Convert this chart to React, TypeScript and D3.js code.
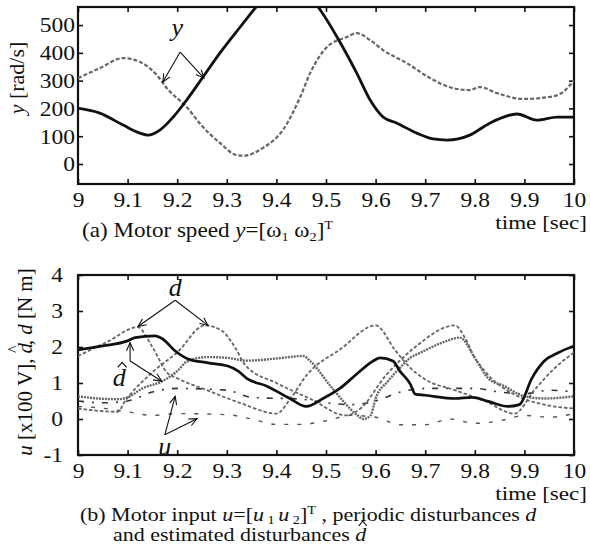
import { useEffect, useRef } from 'react'
import * as d3 from 'd3'

type Pt = [number, number]

// time axis (shared)
const timeTicks = [9, 9.1, 9.2, 9.3, 9.4, 9.5, 9.6, 9.7, 9.8, 9.9, 10]

// (a) motor speed [rad/s]
const speedTicks = [0, 100, 200, 300, 400, 500]
const omega1: Pt[] = [
    [9.0, 201], [9.044, 183], [9.091, 140], [9.125, 111], [9.141, 104], [9.165, 122], [9.192, 169],
    [9.219, 230], [9.252, 313], [9.286, 399], [9.327, 493], [9.359, 565], [9.40, 650], [9.44, 645],
    [9.484, 565], [9.528, 439], [9.562, 327], [9.589, 230], [9.615, 169], [9.643, 147], [9.683, 111],
    [9.716, 90], [9.744, 86], [9.79, 104], [9.83, 147], [9.885, 180], [9.925, 158], [9.966, 169], [10, 169],
]
const omega2: Pt[] = [
    [9.0, 309], [9.044, 345], [9.091, 381], [9.125, 367], [9.159, 320], [9.179, 273], [9.219, 205],
    [9.252, 133], [9.286, 76], [9.32, 32], [9.335, 30], [9.373, 58], [9.413, 122], [9.448, 241],
    [9.468, 327], [9.502, 421], [9.542, 457], [9.562, 471], [9.589, 446], [9.615, 410], [9.663, 363],
    [9.71, 309], [9.756, 273], [9.79, 266], [9.81, 277], [9.845, 255], [9.897, 234], [9.95, 241],
    [9.978, 259], [10, 302],
]

// (b) inputs and disturbances
const inputTicks = [-1, 0, 1, 2, 3, 4]
const dHat1: Pt[] = [
    [9.0, 1.92], [9.05, 2.03], [9.1, 2.17], [9.115, 2.26], [9.155, 2.31], [9.17, 2.23], [9.196, 1.89],
    [9.222, 1.67], [9.262, 1.56], [9.302, 1.47], [9.323, 1.33], [9.34, 1.13], [9.381, 0.91],
    [9.427, 0.57], [9.46, 0.35], [9.494, 0.57], [9.528, 0.85], [9.562, 1.25], [9.595, 1.61],
    [9.609, 1.7], [9.635, 1.61], [9.649, 1.33], [9.67, 0.97], [9.68, 0.69], [9.7, 0.66], [9.76, 0.57],
    [9.794, 0.6], [9.827, 0.49], [9.867, 0.35], [9.89, 0.4], [9.915, 1.13], [9.94, 1.61],
    [9.968, 1.84], [10, 2.03],
]
const dHat2: Pt[] = [
    [9.0, 0.63], [9.04, 0.57], [9.08, 0.55], [9.1, 0.6], [9.13, 0.85], [9.17, 1.05], [9.2, 1.33],
    [9.22, 1.6], [9.26, 1.72], [9.3, 1.7], [9.34, 1.62], [9.4, 1.68], [9.454, 1.75], [9.468, 1.61],
    [9.51, 0.9], [9.562, 0.12], [9.575, 0.0], [9.59, 0.1], [9.6, 0.57], [9.625, 1.05], [9.649, 1.42],
    [9.67, 1.7], [9.69, 1.84], [9.74, 2.15], [9.77, 2.26], [9.8, 1.7], [9.827, 1.13], [9.86, 0.91],
    [9.9, 0.63], [9.94, 0.57], [10, 0.63],
]
const d1: Pt[] = [
    [9.0, 1.75], [9.06, 2.15], [9.12, 2.55], [9.15, 2.0], [9.18, 1.28], [9.2, 1.13], [9.26, 0.8],
    [9.33, 0.43], [9.4, 0.15], [9.43, 0.6], [9.46, 1.2], [9.53, 1.95], [9.6, 2.6], [9.64, 1.9],
    [9.67, 1.42], [9.7, 1.1], [9.76, 0.8], [9.82, 0.5], [9.88, 0.15], [9.92, 0.8], [9.96, 1.4], [10, 1.85],
]
const d2: Pt[] = [
    [9.0, 0.29], [9.08, 0.2], [9.095, 0.5], [9.15, 1.3], [9.2, 1.85], [9.256, 2.6], [9.29, 2.45],
    [9.317, 1.98], [9.337, 1.5], [9.4, 1.0], [9.47, 0.55], [9.54, 0.1], [9.57, 0.3], [9.62, 1.2],
    [9.68, 2.0], [9.76, 2.6], [9.78, 2.26], [9.8, 1.7], [9.82, 1.33], [9.887, 0.63], [9.94, 0.4], [10, 0.29],
]
const u1: Pt[] = [
    [9.0, 0.5], [9.05, 0.45], [9.1, 0.5], [9.15, 0.75], [9.2, 0.85], [9.3, 0.8], [9.35, 0.6],
    [9.45, 0.55], [9.5, 0.45], [9.55, 0.4], [9.6, 0.5], [9.65, 0.75], [9.7, 0.85], [9.8, 0.85],
    [9.85, 0.75], [9.9, 0.7], [9.95, 0.8], [10, 0.75],
]
const u2: Pt[] = [
    [9.0, 0.35], [9.05, 0.3], [9.1, 0.2], [9.15, 0.1], [9.2, 0.15], [9.3, 0.12], [9.35, 0.0],
    [9.4, -0.15], [9.45, -0.15], [9.5, -0.05], [9.55, 0.1], [9.6, 0.05], [9.65, -0.16], [9.7, -0.16],
    [9.75, 0.0], [9.8, -0.12], [9.85, -0.05], [9.9, 0.1], [9.95, 0.05], [10, 0.15],
]

// annotation anchors in data units: label, arrow origin, arrow tips
const yNote = { label: [9.2, 489] as Pt, from: [9.206, 403] as Pt, to: [[9.171, 295], [9.254, 309]] as Pt[] }
const dNote = { label: [9.196, 3.63] as Pt, from: [9.196, 3.3] as Pt, to: [[9.121, 2.57], [9.262, 2.6]] as Pt[] }
const dHatNote = { label: [9.083, 1.13] as Pt, from: [9.105, 1.61] as Pt, to: [[9.105, 2.12], [9.169, 1.05]] as Pt[] }
const uNote = { label: [9.175, -0.78] as Pt, from: [9.175, -0.44] as Pt, to: [[9.196, 0.63], [9.24, 0.01]] as Pt[] }

const FONT = "'Liberation Serif', 'Times New Roman', serif"
const SX = 1.12 // the scanned type is a little wide

export default function App() {
    const svgRef = useRef<SVGSVGElement>(null)

    useEffect(() => {
        if (!svgRef.current) return
        const svg = d3.select(svgRef.current)
        svg.selectAll('*').remove()
        svg.attr('font-family', FONT).attr('fill', '#111')

        const defs = svg.append('defs')
        defs.append('marker')
            .attr('id', 'ah').attr('viewBox', '0 0 10 10')
            .attr('refX', 9).attr('refY', 5)
            .attr('markerWidth', 9).attr('markerHeight', 9)
            .attr('markerUnits', 'userSpaceOnUse')
            .attr('orient', 'auto')
            .append('path').attr('d', 'M0,1 L9,5 L0,9')
            .attr('fill', 'none').attr('stroke', '#111').attr('stroke-width', 1.2)

        const hat = (cx: number, cy: number, w = 8) =>
            svg.append('path').attr('d', `M${cx - w / 2},${cy + 3} L${cx},${cy - 2} L${cx + w / 2},${cy + 3}`)
                .attr('fill', 'none').attr('stroke', '#111').attr('stroke-width', 1.2)

        const left = 78, right = 574
        const x = d3.scaleLinear().domain([9, 10]).range([left, right])
        const fmt = (d: d3.NumberValue) => String(+(+d).toFixed(1))

        const panel = (id: string, top: number, bottom: number, yDomain: [number, number], yTicks: number[], labelGap: number) => {
            const y = d3.scaleLinear().domain(yDomain).range([bottom, top])
            defs.append('clipPath').attr('id', id)
                .append('rect').attr('x', left).attr('y', top).attr('width', right - left).attr('height', bottom - top)

            const ax = (g: d3.Selection<SVGGElement, unknown, null, undefined>) => {
                g.select('.domain').remove()
                g.attr('font-family', FONT)
                g.selectAll('line').attr('stroke', '#111').attr('stroke-width', 1.6)
            }
            svg.append('g').attr('transform', `translate(0,${bottom})`)
                .call(d3.axisBottom(x).tickValues(timeTicks).tickFormat(fmt).tickSize(-5))
                .call(ax)
                .call(g => g.selectAll('text').attr('y', 16).attr('dy', '0.33em')
                    .attr('transform', `scale(${SX},1)`)
                    .attr('font-size', 21).attr('fill', '#111'))
            svg.append('g').attr('transform', `translate(0,${top})`)
                .call(d3.axisTop(x).tickValues(timeTicks).tickFormat(() => '').tickSize(-5))
                .call(ax)
            svg.append('g').attr('transform', `translate(${left},0)`)
                .call(d3.axisLeft(y).tickValues(yTicks).tickFormat(fmt).tickSize(-5))
                .call(ax)
                .call(g => g.selectAll('text').attr('x', -labelGap / SX).attr('dy', '0.33em')
                    .attr('transform', `scale(${SX},1)`)
                    .attr('font-size', 21).attr('fill', '#111'))
            svg.append('g').attr('transform', `translate(${right},0)`)
                .call(d3.axisRight(y).tickValues(yTicks).tickFormat(() => '').tickSize(-5))
                .call(ax)

            svg.append('rect')
                .attr('x', left).attr('y', top).attr('width', right - left).attr('height', bottom - top)
                .attr('fill', 'none').attr('stroke', '#111').attr('stroke-width', 2.2)

            svg.append('text').attr('transform', `translate(587,${bottom + 45}) scale(1.1,0.9)`)
                .attr('text-anchor', 'end').attr('font-size', 21).text('time [sec]')

            const plot = svg.append('g').attr('clip-path', `url(#${id})`)
            const line = d3.line<Pt>().x(d => x(d[0])).y(d => y(d[1])).curve(d3.curveMonotoneX)
            const draw = (data: Pt[], stroke: string, width: number, dash: string | null) =>
                plot.append('path').datum(data).attr('d', line)
                    .attr('fill', 'none').attr('stroke', stroke).attr('stroke-width', width)
                    .attr('stroke-dasharray', dash).attr('stroke-linejoin', 'round')
            return { y, draw }
        }

        const arrows = (note: { from: Pt; to: Pt[] }, y: d3.ScaleLinear<number, number>) => {
            note.to.forEach(t => {
                svg.append('line')
                    .attr('x1', x(note.from[0])).attr('y1', y(note.from[1]))
                    .attr('x2', x(t[0])).attr('y2', y(t[1]))
                    .attr('stroke', '#111').attr('stroke-width', 1.1)
                    .attr('marker-end', 'url(#ah)')
            })
        }
        const italic = (p: Pt, y: d3.ScaleLinear<number, number>, s: string, withHat = false) => {
            svg.append('text').attr('x', x(p[0])).attr('y', y(p[1]) + 8)
                .attr('text-anchor', 'middle').attr('font-size', 26).attr('font-style', 'italic').text(s)
            if (withHat) hat(x(p[0]) + 3, y(p[1]) - 14, 9)
        }

        // (a) Motor speed
        const a = panel('clipA', 7, 184, [-72, 565], speedTicks, 3)
        a.draw(omega2, '#666', 2.2, '4,2')
        a.draw(omega1, '#111', 2.8, null)
        italic(yNote.label, a.y, 'y')
        arrows(yNote, a.y)

        const capA = svg.append('text').attr('transform', `translate(82,237) scale(1.1,1)`).attr('font-size', 21)
        capA.append('tspan').text('(a)  Motor speed ')
        capA.append('tspan').attr('font-style', 'italic').text('y')
        capA.append('tspan').text('=[ω')
        capA.append('tspan').attr('font-size', 13).attr('dy', 4).text('1')
        capA.append('tspan').attr('dy', -4).text('  ω')
        capA.append('tspan').attr('font-size', 13).attr('dy', 4).text('2')
        capA.append('tspan').attr('dy', -4).text(']')
        capA.append('tspan').attr('font-size', 13).attr('dy', -8).text('T')

        const yLabA = svg.append('text').attr('transform', 'translate(24,78) rotate(-90)')
            .attr('text-anchor', 'middle').attr('font-size', 22)
        yLabA.append('tspan').attr('font-style', 'italic').text('y')
        yLabA.append('tspan').text(' [rad/s]')

        // (b) Motor input and disturbances
        const b = panel('clipB', 275, 455, [-1, 4], inputTicks, 15)
        b.draw(u2, '#555', 1.4, '4,9')
        b.draw(u1, '#333', 1.6, '6,8,2,8')
        b.draw(d1, '#666', 1.8, '3.5,2')
        b.draw(d2, '#666', 1.8, '3.5,2')
        b.draw(dHat2, '#666', 2.4, '2,1')
        b.draw(dHat1, '#111', 2.7, null)

        italic(dNote.label, b.y, 'd')
        arrows(dNote, b.y)
        italic(dHatNote.label, b.y, 'd', true)
        arrows(dHatNote, b.y)
        italic(uNote.label, b.y, 'u')
        arrows(uNote, b.y)

        const yLabB = svg.append('text').attr('transform', 'translate(32,362) rotate(-90)')
            .attr('text-anchor', 'middle').attr('font-size', 21)
        yLabB.append('tspan').attr('font-style', 'italic').text('u')
        yLabB.append('tspan').text(' [x100 V], ')
        yLabB.append('tspan').attr('font-style', 'italic').text('d')
        yLabB.append('tspan').attr('dx', -10).attr('dy', -13).attr('font-size', 16).text('^')
        yLabB.append('tspan').attr('dy', 13).text(', ')
        yLabB.append('tspan').attr('font-style', 'italic').text('d')
        yLabB.append('tspan').text(' [N m]')

        // caption lines sit close together, as in the print
        const capB1 = svg.append('text').attr('transform', 'translate(80,521) scale(1.1,0.9)').attr('font-size', 20)
        capB1.append('tspan').text('(b) Motor input ')
        capB1.append('tspan').attr('font-style', 'italic').text('u')
        capB1.append('tspan').text('=[')
        capB1.append('tspan').attr('font-style', 'italic').text('u')
        capB1.append('tspan').attr('font-size', 13).attr('dy', 3).text(' 1 ')
        capB1.append('tspan').attr('dy', -3).attr('font-style', 'italic').text('u')
        capB1.append('tspan').attr('font-size', 13).attr('dy', 3).text(' 2')
        capB1.append('tspan').attr('dy', -3).text(']')
        capB1.append('tspan').attr('font-size', 13).attr('dy', -8).text('T')
        capB1.append('tspan').attr('dy', 8).text(' , periodic disturbances ')
        capB1.append('tspan').attr('font-style', 'italic').text('d')

        const capB2 = svg.append('text').attr('transform', 'translate(113,541) scale(1.1,0.9)').attr('font-size', 20)
        capB2.append('tspan').text('and estimated disturbances ')
        const dEnd = capB2.append('tspan').attr('font-style', 'italic').text('d')
        const len = (capB2.node() as SVGTextElement).getComputedTextLength()
        const dW = (dEnd.node() as SVGTextContentElement).getComputedTextLength()
        hat(113 + (len - dW / 2) * 1.1 + 2, 541 - 18, 8)
    }, [])

    return (
        <svg ref={svgRef} width={590} height={556}
            style={{ position: 'absolute', left: 0, top: 0, background: '#fff' }} />
    )
}
